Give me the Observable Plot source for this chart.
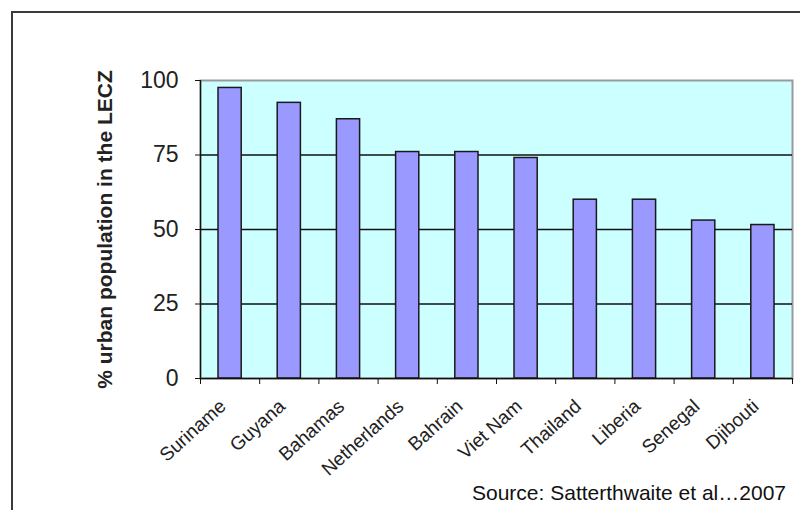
<!DOCTYPE html>
<html>
<head>
<meta charset="utf-8">
<script src="https://cdn.jsdelivr.net/npm/d3@7"></script>
<script src="https://cdn.jsdelivr.net/npm/@observablehq/plot@0.6"></script>
<style>
  html, body { margin: 0; padding: 0; background: #fff; }
  #wrap { position: relative; width: 800px; height: 510px; overflow: hidden; font-family: "Liberation Sans", Arial, sans-serif; }
  #border { position: absolute; left: 11px; top: 11px; width: 1000px; height: 800px; border: 2px solid #3a3a3a; box-sizing: border-box; pointer-events: none; }
  #chart { position: absolute; left: 0; top: 0; }
  #source { position: absolute; right: 14px; top: 481px; font-size: 21px; color: #111; white-space: nowrap; }
  [aria-label="y-axis label"] text { font-weight: bold; font-size: 21px; }
</style>
</head>
<body>
<div id="wrap">
  <div id="border"></div>
  <div id="chart"></div>
  <div id="source">Source: Satterthwaite et al…2007</div>
</div>
<script>
const countries = ["Suriname", "Guyana", "Bahamas", "Netherlands", "Bahrain", "Viet Nam", "Thailand", "Liberia", "Senegal", "Djibouti"];
const values = [97.5, 92.5, 87, 76, 76, 74, 60, 60, 53, 51.5];
const yTicks = [0, 25, 50, 75, 100];
const gridValues = [25, 50, 75];
const yLabel = "% urban population in the LECZ";

const data = countries.map((c, i) => ({country: c, index: i, value: values[i]}));
const boundaries = d3.range(countries.length + 1);

const chart = Plot.plot({
  width: 800,
  height: 510,
  marginLeft: 200,
  marginRight: 8,
  marginTop: 80,
  marginBottom: 132,
  style: {fontFamily: "'Liberation Sans', Arial, sans-serif", color: "#222", background: "transparent"},
  x: {type: "linear", domain: [0, countries.length], axis: null},
  y: {domain: [0, 100], axis: null},
  marks: [
    Plot.frame({fill: "#ccffff", stroke: "#9a9a9a", strokeWidth: 2}),
    Plot.ruleY(gridValues, {stroke: "#111", strokeWidth: 1.3}),
    Plot.rectY(data, {
      x1: d => d.index, x2: d => d.index + 1, y: "value",
      insetLeft: 18, insetRight: 18,
      fill: "#9999ff", stroke: "#1a1a1a", strokeWidth: 1.5
    }),
    Plot.axisY({
      ticks: yTicks, tickSize: 5, tickPadding: 17, fontSize: 23,
      label: yLabel, labelAnchor: "center", labelArrow: "none", labelOffset: 103, stroke: "#111"
    }),
    Plot.axisX({
      ticks: boundaries, tickSize: 6, tickFormat: () => "", stroke: "#111", label: null
    }),
    Plot.ruleX([0], {stroke: "#111", strokeWidth: 1.3}),
    Plot.ruleY([0], {stroke: "#111", strokeWidth: 1.3}),
    Plot.text(data, {
      x: d => d.index + 0.5, y: () => 0, text: "country",
      rotate: -42, textAnchor: "end", dy: 25, dx: -7,
      fontSize: 19, fill: "#222"
    })
  ]
});
document.getElementById("chart").appendChild(chart);
</script>
</body>
</html>
